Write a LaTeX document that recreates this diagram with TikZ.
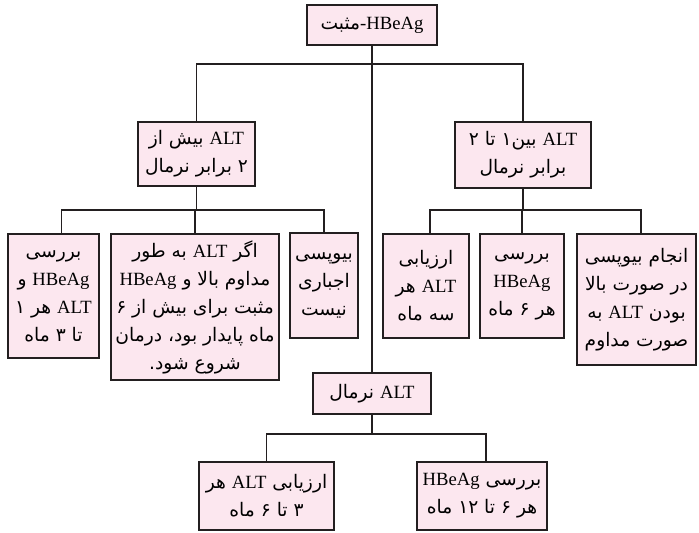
\documentclass[tikz,border=0pt]{standalone}
\usepackage{fontspec}
\setmainfont{Liberation Serif}
\newfontfamily\arabicfont[Script=Arabic,Scale=1.0]{DejaVu Sans}
\TeXXeTstate=1
\newcommand{\rl}[1]{\beginR #1\endR}
\newcommand{\lat}[1]{{\rmfamily\beginL #1\endL}}
\definecolor{boxfill}{RGB}{252,231,239}
\definecolor{boxline}{RGB}{35,31,32}
\begin{document}
\begin{tikzpicture}[x=0.75pt,y=-0.75pt,
  bx/.style={draw=boxline,fill=boxfill,line width=1.3pt,align=center,inner sep=0pt,
    text=black,font=\arabicfont\fontsize{14}{21}\selectfont},
  conn/.style={draw=boxline,line width=1.2pt}]
\useasboundingbox (0,0) rectangle (699,532);

\node[bx,minimum width=97.5pt,minimum height=30pt] (top) at (372,25)
  {\rl{\lat{HBeAg}\lat{-}مثبت}};
\node[bx,minimum width=87.75pt,minimum height=48pt] (L) at (196.5,154)
  {\rl{\lat{ALT} بیش از}\\ \rl{۲ برابر نرمال}};
\node[bx,minimum width=102pt,minimum height=49.5pt] (R) at (523,155)
  {\rl{\lat{ALT} بین۱ تا ۲}\\ \rl{برابر نرمال}};

\node[bx,minimum width=68.25pt,minimum height=93pt] (c1) at (53.5,296)
  {\rl{بررسی}\\ \rl{\lat{HBeAg} و}\\ \rl{\lat{ALT} هر ۱}\\ \rl{تا ۳ ماه}};
\node[bx,minimum width=126pt,minimum height=109.5pt] (c2) at (195,307)
  {\rl{اگر \lat{ALT} به طور}\\ \rl{مداوم بالا و \lat{HBeAg}}\\ \rl{مثبت برای بیش از ۶}\\ \rl{ماه پایدار بود، درمان}\\ \rl{شروع شود.}};
\node[bx,minimum width=51pt,minimum height=78.75pt] (c3) at (324,285.5)
  {\rl{بیوپسی}\\ \rl{اجباری}\\ \rl{نیست}};

\node[bx,minimum width=64.5pt,minimum height=78pt] (A) at (426,286)
  {\rl{ارزیابی}\\ \rl{\lat{ALT} هر}\\ \rl{سه ماه}};
\node[bx,minimum width=63pt,minimum height=78pt] (B) at (522,286)
  {\rl{بررسی}\\ \rl{\lat{HBeAg}}\\ \rl{هر ۶ ماه}};
\node[bx,minimum width=89.25pt,minimum height=98.25pt] (C) at (636.5,299.5)
  {\rl{انجام بیوپسی}\\ \rl{در صورت بالا}\\ \rl{بودن \lat{ALT} به}\\ \rl{صورت مداوم}};

\node[bx,minimum width=88.5pt,minimum height=30.75pt] (N) at (372,393.5)
  {\rl{\lat{ALT} نرمال}};
\node[bx,minimum width=101.25pt,minimum height=51pt] (BL) at (266.5,496)
  {\rl{ارزیابی \lat{ALT} هر}\\ \rl{۳ تا ۶ ماه}};
\node[bx,minimum width=97.5pt,minimum height=51pt] (BR) at (482,496)
  {\rl{بررسی \lat{HBeAg}}\\ \rl{هر ۶ تا \beginL ۱۲\endL{} ماه}};

\coordinate (h1) at (372,64);
\coordinate (h2) at (196.5,210);
\coordinate (h3) at (523,210);
\coordinate (h4) at (372,434);

\draw[conn] (top.south) -- (N.north);
\draw[conn] (L.north) |- (h1) -| (R.north);
\draw[conn] (L.south) -- (h2);
\draw[conn] ([xshift=6pt]c1.north) |- (h2) -| (c3.north);
\draw[conn] (c2.north) -- (c2.north |- h2);
\draw[conn] (R.south) -- (h3);
\draw[conn] ([xshift=3pt]A.north) |- (h3) -| ([xshift=3.4pt]C.north);
\draw[conn] (B.north) -- (B.north |- h3);
\draw[conn] (N.south) -- (h4);
\draw[conn] (BL.north) |- (h4) -| ([xshift=3pt]BR.north);
\end{tikzpicture}
\end{document}
